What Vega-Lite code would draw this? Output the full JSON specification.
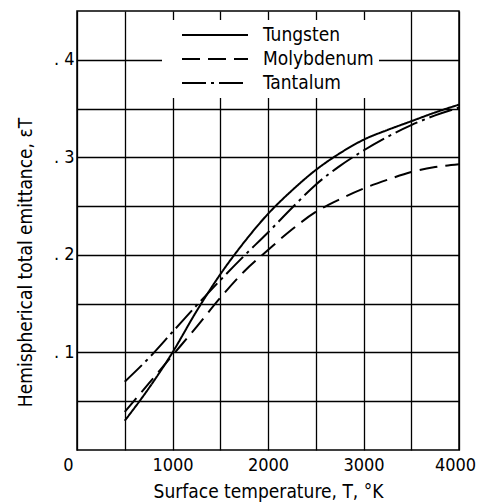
{
  "$schema": "https://vega.github.io/schema/vega-lite/v6.json",
  "width": 382,
  "height": 439,
  "autosize": {"type": "none"},
  "padding": {"left": 77, "top": 11, "right": 18, "bottom": 52},
  "background": "white",
  "config": {
    "font": "DejaVu Sans Condensed, DejaVu Sans, sans-serif",
    "view": {"stroke": "black", "strokeWidth": 1.5},
    "axis": {
      "grid": true,
      "gridColor": "black",
      "gridOpacity": 1,
      "gridWidth": 1.3,
      "domain": false,
      "ticks": false,
      "labelColor": "black",
      "labelFontSize": 18,
      "labelOverlap": false,
      "labelFlush": false,
      "titleColor": "black",
      "titleFontSize": 19,
      "titleFontWeight": "normal"
    }
  },
  "data": {
    "values": [
      {"metal": "Tungsten", "T": 500, "e": 0.030},
      {"metal": "Tungsten", "T": 750, "e": 0.063},
      {"metal": "Tungsten", "T": 1000, "e": 0.100},
      {"metal": "Tungsten", "T": 1250, "e": 0.142},
      {"metal": "Tungsten", "T": 1500, "e": 0.180},
      {"metal": "Tungsten", "T": 1750, "e": 0.213},
      {"metal": "Tungsten", "T": 2000, "e": 0.242},
      {"metal": "Tungsten", "T": 2250, "e": 0.266},
      {"metal": "Tungsten", "T": 2500, "e": 0.287},
      {"metal": "Tungsten", "T": 2750, "e": 0.304},
      {"metal": "Tungsten", "T": 3000, "e": 0.318},
      {"metal": "Tungsten", "T": 3250, "e": 0.328},
      {"metal": "Tungsten", "T": 3500, "e": 0.337},
      {"metal": "Tungsten", "T": 3750, "e": 0.346},
      {"metal": "Tungsten", "T": 4000, "e": 0.354},
      {"metal": "Molybdenum", "T": 500, "e": 0.039},
      {"metal": "Molybdenum", "T": 750, "e": 0.068},
      {"metal": "Molybdenum", "T": 1000, "e": 0.097},
      {"metal": "Molybdenum", "T": 1250, "e": 0.126},
      {"metal": "Molybdenum", "T": 1500, "e": 0.156},
      {"metal": "Molybdenum", "T": 1750, "e": 0.183},
      {"metal": "Molybdenum", "T": 2000, "e": 0.205},
      {"metal": "Molybdenum", "T": 2250, "e": 0.226},
      {"metal": "Molybdenum", "T": 2500, "e": 0.244},
      {"metal": "Molybdenum", "T": 2750, "e": 0.257},
      {"metal": "Molybdenum", "T": 3000, "e": 0.268},
      {"metal": "Molybdenum", "T": 3250, "e": 0.277},
      {"metal": "Molybdenum", "T": 3500, "e": 0.285},
      {"metal": "Molybdenum", "T": 3750, "e": 0.290},
      {"metal": "Molybdenum", "T": 4000, "e": 0.293},
      {"metal": "Tantalum", "T": 500, "e": 0.070},
      {"metal": "Tantalum", "T": 750, "e": 0.094},
      {"metal": "Tantalum", "T": 1000, "e": 0.121},
      {"metal": "Tantalum", "T": 1250, "e": 0.148},
      {"metal": "Tantalum", "T": 1500, "e": 0.174},
      {"metal": "Tantalum", "T": 1750, "e": 0.199},
      {"metal": "Tantalum", "T": 2000, "e": 0.223},
      {"metal": "Tantalum", "T": 2250, "e": 0.248},
      {"metal": "Tantalum", "T": 2500, "e": 0.272},
      {"metal": "Tantalum", "T": 2750, "e": 0.291},
      {"metal": "Tantalum", "T": 3000, "e": 0.307},
      {"metal": "Tantalum", "T": 3250, "e": 0.321},
      {"metal": "Tantalum", "T": 3500, "e": 0.333},
      {"metal": "Tantalum", "T": 3750, "e": 0.343},
      {"metal": "Tantalum", "T": 4000, "e": 0.351}
    ]
  },
  "mark": {"type": "line", "interpolate": "monotone", "strokeWidth": 2, "color": "black"},
  "encoding": {
    "x": {
      "field": "T",
      "type": "quantitative",
      "scale": {"domain": [0, 4000], "nice": false},
      "axis": {
        "values": [0, 500, 1000, 1500, 2000, 2500, 3000, 3500, 4000],
        "labelExpr": "datum.value % 1000 === 0 ? '' + datum.value : ''",
        "labelPadding": 6,
        "labelAlign": {"condition": {"test": "datum.value === 0", "value": "right"}, "value": "center"},
        "labelOffset": {"condition": {"test": "datum.value === 0 || datum.value === 4000", "value": -4}, "value": 0},
        "title": "Surface temperature,  T,  °K",
        "titleY": 47,
        "titleBaseline": "alphabetic"
      }
    },
    "y": {
      "field": "e",
      "type": "quantitative",
      "scale": {"domain": [0, 0.45], "nice": false},
      "axis": {
        "values": [0.05, 0.1, 0.15, 0.2, 0.25, 0.3, 0.35, 0.4],
        "labelExpr": "abs(round(datum.value * 10) - datum.value * 10) < 0.001 ? '. ' + round(datum.value * 10) : ''",
        "labelPadding": 3,
        "title": "Hemispherical total emittance,  εT",
        "titleX": -52,
        "titleY": 251,
        "titleBaseline": "middle"
      }
    },
    "strokeDash": {
      "field": "metal",
      "type": "nominal",
      "scale": {
        "domain": ["Tungsten", "Molybdenum", "Tantalum"],
        "range": [[1, 0], [18, 8], [24, 5, 3, 5]]
      },
      "legend": {
        "title": null,
        "orient": "none",
        "legendX": 85,
        "legendY": 9,
        "fillColor": "white",
        "padding": 5,
        "clipHeight": 20,
        "symbolType": "stroke",
        "symbolSize": 4356,
        "symbolStrokeWidth": 2,
        "symbolStrokeColor": "black",
        "symbolOffset": 14,
        "labelFontSize": 19,
        "labelColor": "black",
        "labelOffset": 14,
        "rowPadding": 4
      }
    }
  }
}
